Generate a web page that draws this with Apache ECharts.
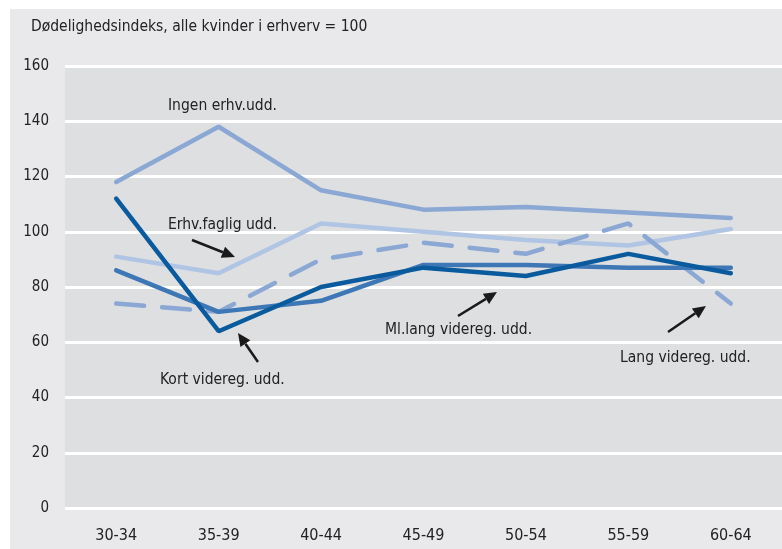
<!DOCTYPE html>
<html>
<head>
<meta charset="utf-8">
<script src="https://cdn.jsdelivr.net/npm/echarts@6/dist/echarts.min.js"></script>
<style>
  html, body { margin: 0; padding: 0; background: #fff; }
  #chart { position: absolute; left: 10px; top: 9px; width: 772px; height: 540px; }
</style>
</head>
<body>
<div id="chart"></div>
<script>
const ageGroups = ['30-34', '35-39', '40-44', '45-49', '50-54', '55-59', '60-64']
const ingenErhv = [118, 138, 115, 108, 109, 107, 105]
const erhvFaglig = [91, 85, 103, 100, 97, 95, 101]
const kortVidereg = [112, 64, 80, 87, 84, 92, 85]
const mlLangVidereg = [86, 71, 75, 88, 88, 87, 87]
const langVidereg = [74, 71, 90, 96, 92, 103, 74]

const font = '"Liberation Sans Narrow", "DejaVu Sans Condensed", sans-serif'

// pile med linje + trekant, koordinater i px relativt til containeren
function arrow(x1, y1, x2, y2) {
  const a = Math.atan2(y2 - y1, x2 - x1)
  const len = 13, w = 6
  const bx = x2 - len * Math.cos(a), by = y2 - len * Math.sin(a)
  const px = -Math.sin(a) * w, py = Math.cos(a) * w
  return [
    { type: 'line', shape: { x1: x1, y1: y1, x2: bx, y2: by }, style: { stroke: '#1a1a1a', lineWidth: 2.5 }, z: 10 },
    { type: 'polygon', shape: { points: [[x2, y2], [bx + px, by + py], [bx - px, by - py]] }, style: { fill: '#1a1a1a' }, z: 10 }
  ]
}

function label(text, x, y) {
  return { type: 'text', left: x, top: y, style: { text: text, fill: '#222', font: '15.5px ' + font }, z: 10 }
}

function lineSeries(name, data, color, dashed) {
  return {
    name: name,
    type: 'line',
    data: data,
    symbol: 'none',
    lineStyle: { color: color, width: 4.5, type: dashed ? [28, 18] : 'solid', cap: 'round' },
    itemStyle: { color: color }
  }
}

const chart = echarts.init(document.getElementById('chart'))
chart.setOption({
  backgroundColor: '#e9e9eb',
  animation: false,
  textStyle: { fontFamily: font },
  grid: { left: 55, right: 0, top: 57, bottom: 41, show: true, backgroundColor: '#dedfe1', borderWidth: 0 },
  xAxis: {
    type: 'category',
    data: ageGroups,
    boundaryGap: true,
    axisLine: { show: false },
    axisTick: { show: false },
    axisLabel: { color: '#222', fontSize: 16, margin: 20, fontFamily: font }
  },
  yAxis: {
    type: 'value',
    min: 0,
    max: 160,
    interval: 20,
    axisLine: { show: false },
    axisTick: { show: false },
    axisLabel: { color: '#222', fontSize: 15, margin: 16, fontFamily: font },
    splitLine: { lineStyle: { color: '#ffffff', width: 3 } }
  },
  series: [
    lineSeries('Ingen erhv.udd.', ingenErhv, '#8ba7d3', false),
    lineSeries('Erhv.faglig udd.', erhvFaglig, '#b0c4e4', false),
    lineSeries('Lang videreg. udd.', langVidereg, '#8ba7d3', true),
    lineSeries('Ml.lang videreg. udd.', mlLangVidereg, '#3d77b5', false),
    lineSeries('Kort videreg. udd.', kortVidereg, '#0a5a9e', false)
  ],
  graphic: [
    { type: 'text', left: 21, top: 10, style: { text: 'Dødelighedsindeks, alle kvinder i erhverv = 100', fill: '#222', font: '15.5px ' + font } },
    label('Ingen erhv.udd.', 158, 89),
    label('Erhv.faglig udd.', 158, 208),
    label('Kort videreg. udd.', 150, 363),
    label('Ml.lang videreg. udd.', 375, 313),
    label('Lang videreg. udd.', 610, 341)
  ]
    .concat(arrow(182, 231, 225, 248))
    .concat(arrow(248, 353, 228, 324))
    .concat(arrow(448, 307, 487, 283))
    .concat(arrow(658, 323, 696, 297))
})
</script>
</body>
</html>
